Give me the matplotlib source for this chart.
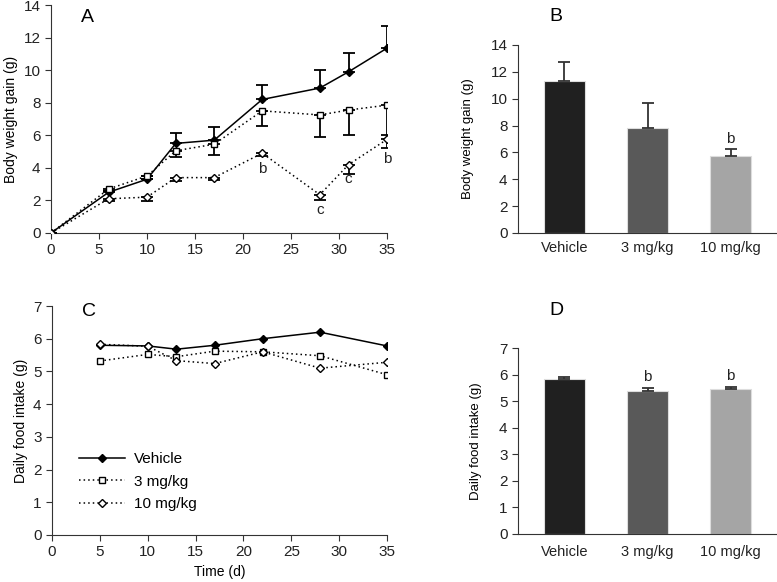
import matplotlib
matplotlib.use("Agg")
import matplotlib.pyplot as plt
import numpy as np

plt.rcParams['font.family'] = ['Liberation Sans', 'DejaVu Sans']
plt.rcParams['font.size'] = 10

# Panel A data
days_a = [0, 6, 10, 13, 17, 22, 28, 31, 35]
veh_a = [0, 2.5, 3.3, 5.5, 5.7, 8.2, 8.9, 9.9, 11.35]
veh_a_err = [0, 0.1, 0.2, 0.65, 0.8, 0.9, 1.1, 1.15, 1.35]
mg3_a = [0, 2.7, 3.5, 5.05, 5.45, 7.5, 7.25, 7.55, 7.85]
mg3_a_err = [0, 0.1, 0.2, 0.4, 0.65, 0.95, 1.35, 1.55, 1.85]
mg10_a = [0, 2.1, 2.2, 3.4, 3.4, 4.9, 2.35, 4.2, 5.75]
mg10_a_err = [0, 0.15, 0.25, 0.2, 0.15, 0.2, 0.35, 0.6, 0.55]
annot_a_x = [22, 28, 31, 35]
annot_a_y = [3.95, 1.4, 3.3, 4.55]
annot_a_t = ['b', 'c', 'c', 'b']

# Panel C data
days_c = [5, 10, 13, 17, 22, 28, 35]
veh_c = [5.8, 5.78, 5.68, 5.8, 6.0, 6.2, 5.78]
mg3_c = [5.32, 5.52, 5.45, 5.62, 5.6, 5.48, 4.9]
mg10_c = [5.83, 5.77, 5.33, 5.24, 5.6, 5.1, 5.28]

# Bar data
groups = ['Vehicle', '3 mg/kg', '10 mg/kg']
bw_gain = [11.3, 7.8, 5.75]
bw_gain_err = [1.4, 1.9, 0.5]
bw_annot = ['', '', 'b']
food = [5.83, 5.37, 5.45]
food_err = [0.08, 0.12, 0.1]
food_annot = ['', 'b', 'b']
bar_colors = ['#202020', '#595959', '#a5a5a5']

fig = plt.figure(figsize=(7.77, 5.82), dpi=100)
axA = fig.add_axes([0.0656, 0.5997, 0.4325, 0.3917])
axC = fig.add_axes([0.0669, 0.0808, 0.4312, 0.3934])
axB = fig.add_axes([0.6667, 0.5997, 0.3320, 0.3230])
axD = fig.add_axes([0.6667, 0.0825, 0.3320, 0.3195])

def style(ax):
    for s in ['top', 'right']:
        ax.spines[s].set_visible(False)
    ax.spines['left'].set_color('#333333')
    ax.spines['bottom'].set_color('#333333')
    ax.tick_params(direction='out', length=4, color='#333333', labelsize=11, labelcolor='#222222')

lw = 1.1
dot = (0, (1, 2))
ms_d = 4.2
ms_s = 4.5
# Panel A
axA.errorbar(days_a, veh_a, yerr=[np.zeros(len(veh_a)), veh_a_err], color='black', lw=lw,
             marker='D', ms=ms_d, mfc='black', capsize=4, elinewidth=1.3, capthick=1.3, zorder=3)
axA.errorbar(days_a, mg3_a, yerr=[mg3_a_err, np.zeros(len(mg3_a))], color='black', lw=lw, ls=dot,
             marker='s', ms=ms_s, mfc='white', capsize=4, elinewidth=1.3, capthick=1.3, zorder=3)
axA.errorbar(days_a, mg10_a, yerr=[mg10_a_err, np.zeros(len(mg10_a))], color='black', lw=lw, ls=dot,
             marker='D', ms=ms_d, mfc='white', capsize=4, elinewidth=1.3, capthick=1.3, zorder=3)
for x, y, t in zip(annot_a_x, annot_a_y, annot_a_t):
    axA.text(x, y, t, ha='center', va='center', fontsize=11, color='#222222')
axA.set_xlim(0, 35)
axA.set_ylim(0, 14)
axA.set_xticks(range(0, 36, 5))
axA.set_yticks(range(0, 15, 2))
axA.set_ylabel('Body weight gain (g)', fontsize=10)
axA.text(0.09, 0.945, 'A', transform=axA.transAxes, fontsize=14, va='center', ha='left')
style(axA)

# Panel C
axC.plot(days_c, veh_c, color='black', lw=lw, marker='D', ms=ms_d, mfc='black', label='Vehicle')
axC.plot(days_c, mg3_c, color='black', lw=lw, ls=dot, marker='s', ms=ms_s, mfc='white', label='3 mg/kg')
axC.plot(days_c, mg10_c, color='black', lw=lw, ls=dot, marker='D', ms=ms_d, mfc='white', label='10 mg/kg')
axC.set_xlim(0, 35)
axC.set_ylim(0, 7)
axC.set_xticks(range(0, 36, 5))
axC.set_yticks(range(0, 8))
axC.set_ylabel('Daily food intake (g)', fontsize=10)
axC.set_xlabel('Time (d)', fontsize=10)
axC.text(0.09, 0.975, 'C', transform=axC.transAxes, fontsize=14, va='center', ha='left')
leg = axC.legend(loc='lower left', bbox_to_anchor=(0.04, 0.045), frameon=False, fontsize=11,
                 handlelength=3.0, labelspacing=0.55, handletextpad=0.6)
style(axC)

# Panel B
xb = np.arange(len(groups))
axB.bar(xb, bw_gain, width=0.49, color=bar_colors, edgecolor='#dddddd', lw=0.8)
axB.errorbar(xb, bw_gain, yerr=[np.zeros(3), bw_gain_err], fmt='none', ecolor='#333333',
             capsize=4, elinewidth=1.3, capthick=1.3)
for x, y, e, t in zip(xb, bw_gain, bw_gain_err, bw_annot):
    if t:
        axB.text(x, y + e + 0.25, t, ha='center', va='bottom', fontsize=11, color='#222222')
axB.set_xlim(-0.557, 2.545)
axB.set_ylim(0, 14)
axB.set_yticks(range(0, 15, 2))
axB.set_xticks(xb)
axB.set_xticklabels(groups)
axB.set_ylabel('Body weight gain (g)', fontsize=9.5, labelpad=12)
axB.text(0.12, 1.15, 'B', transform=axB.transAxes, fontsize=14, va='center', ha='left')
style(axB)
axB.tick_params(axis='x', length=0, pad=6, labelsize=10.5)

# Panel D
axD.bar(xb, food, width=0.49, color=bar_colors, edgecolor='#dddddd', lw=0.8)
axD.errorbar(xb, food, yerr=[np.zeros(3), food_err], fmt='none', ecolor='#333333',
             capsize=4, elinewidth=1.3, capthick=1.3)
for x, y, e, t in zip(xb, food, food_err, food_annot):
    if t:
        axD.text(x, y + e + 0.15, t, ha='center', va='bottom', fontsize=11, color='#222222')
axD.set_xlim(-0.557, 2.545)
axD.set_ylim(0, 7)
axD.set_yticks(range(0, 8))
axD.set_xticks(xb)
axD.set_xticklabels(groups)
axD.set_ylabel('Daily food intake (g)', fontsize=9.5, labelpad=12)
axD.text(0.12, 1.2, 'D', transform=axD.transAxes, fontsize=14, va='center', ha='left')
style(axD)
axD.tick_params(axis='x', length=0, pad=8, labelsize=10.5)

fig.savefig('out.png', dpi=100)
